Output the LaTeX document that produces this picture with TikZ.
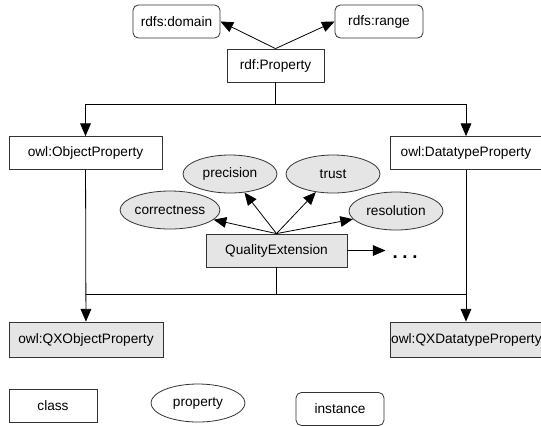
\documentclass[tikz,border=0pt]{standalone}
\usepackage{fontspec}
\setmainfont{Liberation Sans}
\usetikzlibrary{arrows.meta,shapes.geometric}

\begin{document}
\begin{tikzpicture}[x=0.75pt,y=-0.75pt,>={Triangle[length=9.5pt,width=8pt]},
  font=\fontsize{10.25}{12}\selectfont,line width=0.6pt,
  cls/.style={draw=black!80,rectangle,inner sep=0pt,minimum height=24.75pt},
  qx/.style={cls,fill=gray!20,minimum height=26.25pt},
  prp/.style={draw=black!80,ellipse,inner sep=0pt,minimum width=70.5pt,minimum height=28.5pt},
  inst/.style={cls,rounded corners=4pt}]
\useasboundingbox (0,0) rectangle (541,426);
% rdf layer
\node[inst,minimum width=65.25pt] (dom) at (176.5,21.5) {rdfs:domain};
\node[inst,minimum width=66pt] (rng) at (379,21.5) {rdfs:range};
\node[cls,minimum width=72.75pt] (prop) at (275.5,65.5) {rdf:Property};
\draw[->] (prop.north) -- (dom.east);
\draw[->] (prop.north) -- (rng.west);
% owl layer
\node[cls,minimum width=114.75pt] (objp) at (85.5,153) {owl:ObjectProperty};
\node[cls,minimum width=114pt] (datp) at (466,153) {owl:DatatypeProperty};
\coordinate (split) at (275.5,104);
\draw (prop) -- (split);
\draw[->] (split) -| (objp.north);
\draw[->] (split) -| (datp.north);
% quality extension
\node[prp,fill=gray!20] (prec) at (230,174) {precision};
\node[prp,fill=gray!20] (trust) at (333,174) {trust};
\node[prp,fill=gray!20] (corr) at (170,210) {correctness};
\node[prp,fill=gray!20] (reso) at (396,211) {resolution};
\node[qx,minimum height=24.75pt,minimum width=105.75pt] (qext) at (276.5,250.5) {QualityExtension};
\node[inner sep=0pt,font=\fontsize{14}{14}\selectfont\bfseries] (more) at (405,257) {.\kern3.5pt.\kern3.5pt.};
\foreach \p in {corr,prec,trust,reso}
  \draw[->] (qext.north) -- (\p);
\draw[->] (qext.east) -- ([xshift=-5pt]more.west |- qext.east);
% qx layer
\node[qx,minimum width=115.5pt] (qxo) at (86,339.5) {owl:QXObjectProperty};
\node[qx,minimum width=114pt,anchor=west] (qxd) at (390,339.5) {owl:QXDatatypeProperty};
\coordinate (join) at (276.5,294);
\draw (qext) -- (join);
\draw (join -| objp) -- (join -| datp);
\draw[->] (objp) -- (qxo);
\draw[->] (datp) -- (qxd.north -| datp);
% legend
\node[cls,minimum width=66pt] (lcls) at (53,405.5) {class};
\node[prp] (lprp) at (198,403) {property};
\node[inst,minimum width=66pt] (linst) at (340,409) {instance};
\end{tikzpicture}
\end{document}
